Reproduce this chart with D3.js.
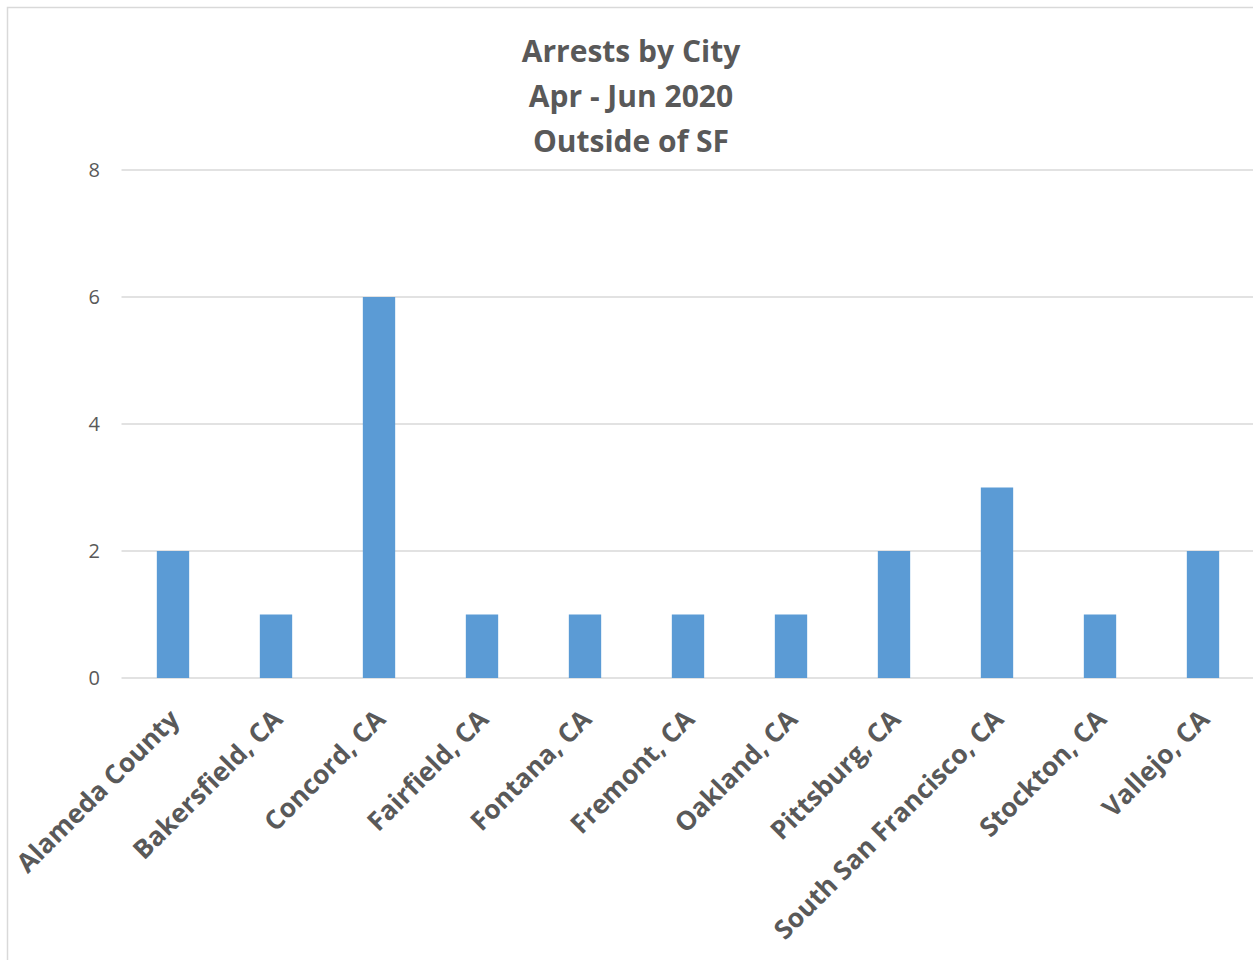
<!DOCTYPE html>
<html>
<head>
<meta charset="utf-8">
<script src="https://cdn.jsdelivr.net/npm/d3@7"></script>
<style>
  body { margin: 0; background: #fff; }
  svg text { font-family: "Open Sans", sans-serif; }
</style>
</head>
<body>
<div id="chart"></div>
<script>
var width = 1253,
    height = 960;

var cities = ["Alameda County", "Bakersfield, CA", "Concord, CA", "Fairfield, CA",
              "Fontana, CA", "Fremont, CA", "Oakland, CA", "Pittsburg, CA",
              "South San Francisco, CA", "Stockton, CA", "Vallejo, CA"];
var arrests = [2, 1, 6, 1, 1, 1, 1, 2, 3, 1, 2];
var yTicks = [0, 2, 4, 6, 8];
var titleLines = ["Arrests by City", "Apr - Jun 2020", "Outside of SF"];

var margin = {left: 121.5, right: -1.5, top: 170, bottom: 282};

var svg = d3.select("#chart").append("svg")
    .attr("width", width)
    .attr("height", height);

// chart border
svg.append("rect")
  .attr("x", 7.5).attr("y", 7.5)
  .attr("width", width).attr("height", height)
  .attr("fill", "none")
  .attr("stroke", "#d9d9d9")
  .attr("stroke-width", 1.5);

var x = d3.scaleBand()
  .domain(cities)
  .range([margin.left, width - margin.right])
  .paddingInner(0.686)
  .paddingOuter(0.343);

var y = d3.scaleLinear()
  .domain([0, 8])
  .range([height - margin.bottom, margin.top]);

// gridlines
svg.append("g")
  .selectAll("line")
  .data(yTicks)
  .join("line")
  .attr("x1", margin.left)
  .attr("x2", width)
  .attr("y1", function(d) { return y(d); })
  .attr("y2", function(d) { return y(d); })
  .attr("stroke", "#d9d9d9")
  .attr("stroke-width", 1.5);

// y axis labels
var yAxis = d3.axisLeft(y).tickValues(yTicks).tickSize(0).tickPadding(0);
svg.append("g")
  .attr("transform", "translate(100,0)")
  .call(yAxis)
  .call(function(g) { g.select(".domain").remove(); })
  .selectAll("text")
  .style("font-family", "Open Sans")
  .attr("font-size", 20)
  .attr("fill", "#595959");

// bars
svg.append("g")
  .selectAll("rect")
  .data(arrests)
  .join("rect")
  .attr("x", function(d, i) { return x(cities[i]); })
  .attr("y", function(d) { return y(d); })
  .attr("width", x.bandwidth())
  .attr("height", function(d) { return y(0) - y(d); })
  .attr("fill", "#5b9bd5");

// x axis labels
var xAxis = d3.axisBottom(x).tickSize(0).tickPadding(0);
svg.append("g")
  .attr("transform", "translate(0," + y(0) + ")")
  .call(xAxis)
  .call(function(g) { g.select(".domain").remove(); })
  .selectAll("text")
  .style("font-family", "Open Sans")
  .attr("font-weight", "bold")
  .attr("font-size", 26.3)
  .attr("fill", "#595959")
  .attr("text-anchor", "end")
  .attr("dy", null)
  .attr("transform", "translate(8,43) rotate(-45)");

// title
svg.append("g")
  .selectAll("text")
  .data(titleLines)
  .join("text")
  .attr("x", 631)
  .attr("y", function(d, i) { return 62 + i * 45; })
  .attr("text-anchor", "middle")
  .style("font-family", "Open Sans")
  .attr("font-weight", "bold")
  .attr("font-size", 30)
  .attr("fill", "#595959")
  .text(function(d) { return d; });
</script>
</body>
</html>
